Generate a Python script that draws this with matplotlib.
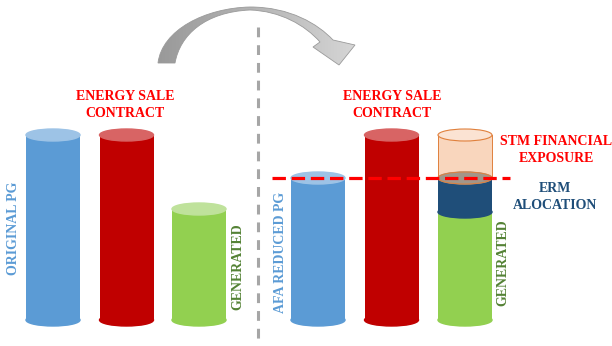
import numpy as np
import matplotlib.pyplot as plt
from matplotlib.patches import Ellipse, Path, PathPatch
from matplotlib.colors import LinearSegmentedColormap

# cylinder heights (baseline = 0)
before_labels = ["ORIGINAL PG", "ENERGY SALE CONTRACT", "GENERATED"]
before_values = [185, 185, 111]
after_labels = ["AFA REDUCED PG", "ENERGY SALE CONTRACT", "GENERATED"]
after_values = [142, 185, 108]
erm_allocation = 34
stm_exposure = 43

BLUE, BLUE_TOP = "#5b9bd5", "#9dc3e6"
RED, RED_TOP = "#c00000", "#d86464"
GREEN, GREEN_TOP = "#92d050", "#bfe29b"
NAVY = "#1f4e79"
PEACH, PEACH_TOP, ORANGE = "#f8cfb2", "#fbe3d3", "#e0803c"
FONT = "Liberation Serif"

fig = plt.figure(figsize=(6.12, 3.46), dpi=100)
ax = fig.add_axes([0, 0, 1, 1])
ax.set_xlim(0, 612)
ax.set_ylim(-26, 320)
ax.axis("off")

W = 54
EH = 12


def cylinder(x, h, body, top, bottom=0):
    ax.bar(x, h, width=W, bottom=bottom, color=body, edgecolor="none", zorder=2)
    ax.add_patch(Ellipse((x, bottom), W, EH, color=body, zorder=2))
    ax.add_patch(Ellipse((x, bottom + h), W, EH, color=top, zorder=3))


left_x = [53, 126.5, 199]
right_x = [318, 391.5, 465]
cylinder(left_x[0], before_values[0], BLUE, BLUE_TOP)
cylinder(left_x[1], before_values[1], RED, RED_TOP)
cylinder(left_x[2], before_values[2], GREEN, GREEN_TOP)

cylinder(right_x[0], after_values[0], BLUE, BLUE_TOP)
cylinder(right_x[1], after_values[1], RED, RED_TOP)
# stacked column: generated + ERM + STM exposure
g = after_values[2]
ax.bar(right_x[2], g, width=W, color=GREEN, zorder=2)
ax.add_patch(Ellipse((right_x[2], 0), W, EH, color=GREEN, zorder=2))
ax.bar(right_x[2], erm_allocation, width=W, bottom=g, color=NAVY, zorder=2)
ax.add_patch(Ellipse((right_x[2], g), W, EH, color=NAVY, zorder=2))
ax.add_patch(Ellipse((right_x[2], g + erm_allocation), W, EH, color="#a39689", zorder=3))
s0 = g + erm_allocation
ax.bar(right_x[2], stm_exposure, width=W, bottom=s0, color=PEACH, alpha=0.85,
       edgecolor="none", zorder=2.5)
ax.plot([right_x[2] - W / 2] * 2, [s0, s0 + stm_exposure], color=ORANGE, lw=0.7, zorder=3)
ax.plot([right_x[2] + W / 2] * 2, [s0, s0 + stm_exposure], color=ORANGE, lw=0.7, zorder=3)
ax.add_patch(Ellipse((right_x[2], s0), W, EH, facecolor="none",
                     edgecolor=ORANGE, lw=0.7, zorder=3))
ax.add_patch(Ellipse((right_x[2], s0 + stm_exposure), W, EH, facecolor=PEACH_TOP,
                     edgecolor=ORANGE, lw=0.8, zorder=3))

# reduced PG level
ax.plot([272, 510], [after_values[0], after_values[0]], color="#ff0000", lw=2.3,
        dashes=(4.2, 1.8), zorder=4)

# divider
ax.plot([258, 258], [293, -26], color="#a6a6a6", lw=2.2, dashes=(3.2, 2.6), zorder=1)


# curved arrow, points given as (x, y-from-top)
def P(x, y):
    return (x, 320 - y)


verts = [P(158, 63),
         P(162, 30), P(205, 8), P(250, 7),
         P(290, 7), P(318, 24), P(333, 40),
         P(355, 45), P(339, 65), P(313, 47), P(320, 42),
         P(305, 25), P(280, 11), P(250, 10),
         P(205, 12), P(180, 35), P(175, 63),
         P(158, 63)]
codes = [Path.MOVETO,
         Path.CURVE4, Path.CURVE4, Path.CURVE4,
         Path.CURVE4, Path.CURVE4, Path.CURVE4,
         Path.LINETO, Path.LINETO, Path.LINETO, Path.LINETO,
         Path.CURVE4, Path.CURVE4, Path.CURVE4,
         Path.CURVE4, Path.CURVE4, Path.CURVE4,
         Path.CLOSEPOLY]
arrow = PathPatch(Path(verts, codes), facecolor="none", edgecolor="#9a9a9a", lw=0.6, zorder=3)
ax.add_patch(arrow)
greys = LinearSegmentedColormap.from_list("arrow", ["#999999", "#b5b5b5", "#d6d6d6"])
grad = np.linspace(0, 1, 256).reshape(1, -1)
im = ax.imshow(grad, extent=(158, 355, 320 - 70, 320 - 3), cmap=greys,
               aspect="auto", zorder=2)
im.set_clip_path(arrow)
ax.set_xlim(0, 612)
ax.set_ylim(-26, 320)

txt = dict(family=FONT, weight="bold", fontsize=10, ha="center", va="center")
ax.text(125, 320 - 105, "ENERGY SALE\nCONTRACT", color="#ff0000", linespacing=1.35, **txt)
ax.text(392, 320 - 105, "ENERGY SALE\nCONTRACT", color="#ff0000", linespacing=1.35, **txt)
ax.text(556, 320 - 150, "STM FINANCIAL\nEXPOSURE", color="#ff0000", linespacing=1.35, **txt)
ax.text(555, 320 - 197, "ERM\nALOCATION", color=NAVY, linespacing=1.35, **txt)
ax.text(14, 320 - 228, "ORIGINAL PG", color=BLUE, rotation=90, **txt)
ax.text(238, 320 - 267, "GENERATED", color="#548235", rotation=90, **txt)
ax.text(280, 320 - 252, "AFA REDUCED PG", color=BLUE, rotation=90, **txt)
ax.text(503, 320 - 263, "GENERATED", color="#548235", rotation=90, **txt)

fig.savefig("out.png", dpi=100)
